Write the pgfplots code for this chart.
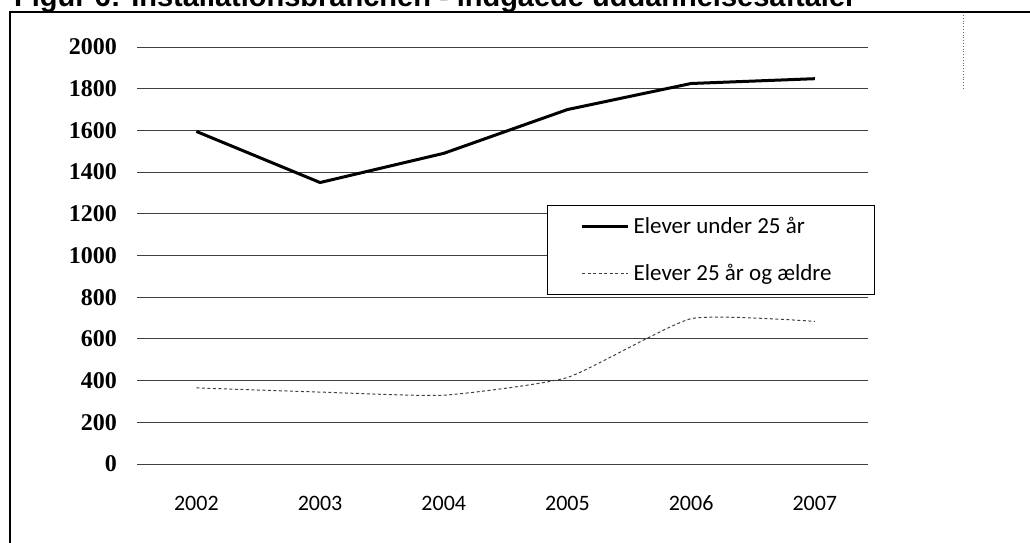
\documentclass[border=0pt]{standalone}
\usepackage{fontspec}
\setmainfont{Carlito}
\newfontfamily\serifb{Liberation Serif}
\newfontfamily\titlefont{Liberation Sans}
\usepackage{pgfplots}
\pgfplotsset{compat=1.18}
\begin{document}
\begin{tikzpicture}[x=1pt,y=1pt]
\useasboundingbox (0,0) rectangle (1030,542);
% title, partly cut at the top as in the reference
\node[anchor=base west, inner sep=0pt, font=\titlefont\bfseries\fontsize{29}{29}\selectfont] at (14,535.5) {Figur 6: Installationsbranchen - indgåede uddannelsesaftaler};
% chart frame
\draw[line width=1.6pt, black] (10,-20) -- (10,530) -- (1040,530);
\draw[line width=0.8pt, black!60, dotted] (963,527) -- (963,452);
\begin{axis}[
  at={(137pt,78pt)}, anchor=south west,
  scale only axis, width=731pt, height=417pt,
  xmin=-0.48, xmax=5.43, ymin=0, ymax=2000,
  axis line style={draw=none},
  tick style={draw=none},
  xtick={0,1,2,3,4,5},
  xticklabels={2002,2003,2004,2005,2006,2007},
  ytick={0,200,400,600,800,1000,1200,1400,1600,1800,2000},
  yticklabels={0,200,400,600,800,1000,1200,1400,1600,1800,2000},
  yticklabel style={anchor=east, inner sep=0pt, xshift=-20pt, font=\serifb\bfseries\fontsize{24}{24}\selectfont},
  xticklabel style={anchor=base, inner sep=0pt, yshift=-46pt, font=\fontsize{22}{22}\selectfont},
  ymajorgrids,
  major grid style={black!75, line width=0.9pt},
  legend style={at={(rel axis cs:0.561,0.621)}, anchor=north west,
    draw=black, line width=1.2pt, fill=white,
    font=\fontsize{23}{23}\selectfont,
    inner xsep=0pt, inner ysep=11pt, row sep=27pt,
    nodes={inner sep=1pt}},
  legend cell align=left,
  legend image code/.code={\path (0pt,0pt); \draw[#1] (33pt,0pt) -- (79pt,0pt);},
]
\addplot[black, line width=3pt, line join=round] coordinates {
  (0,1595) (1,1350) (2,1490) (3,1700) (4,1825) (5,1848)};
\addlegendentry{\hspace*{3pt}Elever under 25 år\hspace*{42pt}}
\addplot[black!75, line width=1pt, dash pattern=on 3pt off 2.5pt, smooth, tension=0.3] coordinates {
  (0,365) (1,345) (2,330) (3,415) (4,697) (5,684)};
\addlegendentry{\hspace*{3pt}Elever 25 år og ældre\hspace*{42pt}}
\end{axis}
\end{tikzpicture}
\end{document}
